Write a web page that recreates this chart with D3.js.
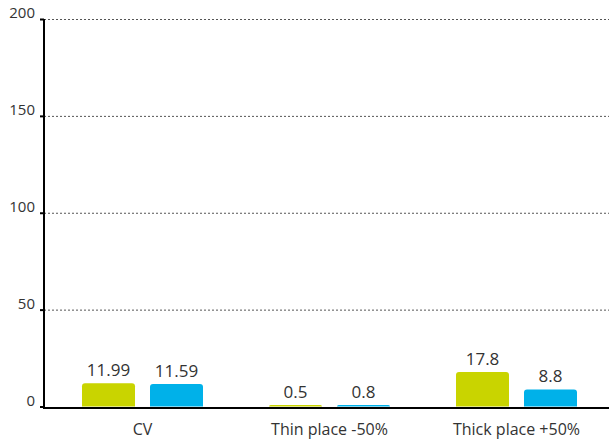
<!DOCTYPE html>
<html><head><meta charset="utf-8">
<script src="https://cdn.jsdelivr.net/npm/d3@7"></script>
<style>body{margin:0;background:#fff;} svg{display:block;}</style>
</head><body><svg id="c" width="609" height="441"></svg>
<script>
const categories = ["CV", "Thin place -50%", "Thick place +50%"];
const series1 = [11.99, 0.5, 17.8];
const series2 = [11.59, 0.8, 8.8];
const yTicks = [0, 50, 100, 150, 200];
const colors = ["#c9d400", "#00b1e9"];

const svg = d3.select("#c");
const font = "'Open Sans',sans-serif";
const y = d3.scaleLinear().domain([0, 200]).range([406.5, 19]);
const x = d3.scaleBand().domain(categories).range([49, 610]).padding(0);
const sub = d3.scaleBand().domain([0, 1]).range([-60.5, 60.5]).paddingInner(15 / 68).paddingOuter(0);

// grid
svg.append("g").selectAll("line").data(yTicks.filter(d => d > 0)).join("line")
  .attr("x1", 44).attr("x2", 609).attr("y1", d => y(d) + 0.5).attr("y2", d => y(d) + 0.5)
  .attr("stroke", "#555").attr("stroke-width", 1).attr("stroke-dasharray", "2,2");

// y axis
const ya = d3.axisLeft(y).tickValues(yTicks).tickSize(4).tickPadding(5);
const gy = svg.append("g").attr("transform", "translate(44,0)").call(ya);
gy.select(".domain").remove();
gy.selectAll(".tick line").attr("stroke", "#000").attr("stroke-width", 2);
gy.selectAll(".tick text").attr("font-family", font).attr("font-size", 15).attr("fill", "#333")
  .attr("dy", "-0.1em");
svg.append("line").attr("x1", 44).attr("x2", 44).attr("y1", 19).attr("y2", 409)
  .attr("stroke", "#000").attr("stroke-width", 2);

const data = categories.map((c, i) => ({c, v: [series1[i], series2[i]]}));
const groups = svg.append("g").selectAll("g").data(data).join("g")
  .attr("transform", d => `translate(${x(d.c) + x.bandwidth() / 2},0)`);

function roundTop(x0, y0, w, h, r) {
  r = Math.min(r, h, w / 2);
  return `M${x0},${y0 + h}V${y0 + r}Q${x0},${y0} ${x0 + r},${y0}H${x0 + w - r}Q${x0 + w},${y0} ${x0 + w},${y0 + r}V${y0 + h}Z`;
}
const barH = v => Math.max(1.6, y(0) - y(v));
groups.selectAll("path").data(d => d.v.map((v, k) => ({v, k}))).join("path")
  .attr("d", d => roundTop(sub(d.k), y(0) - barH(d.v), sub.bandwidth(), barH(d.v), 3))
  .attr("fill", d => colors[d.k]);
groups.selectAll("text.val").data(d => d.v.map((v, k) => ({v, k}))).join("text")
  .attr("class", "val")
  .attr("x", d => sub(d.k) + sub.bandwidth() / 2).attr("y", d => y(0) - barH(d.v) - 7)
  .attr("text-anchor", "middle").attr("font-family", font).attr("font-size", 17).attr("fill", "#333")
  .text(d => d.v);

// x axis
svg.append("line").attr("x1", 43).attr("x2", 609).attr("y1", 408).attr("y2", 408)
  .attr("stroke", "#000").attr("stroke-width", 2);
svg.append("g").selectAll("text").data(categories).join("text")
  .attr("x", d => x(d) + x.bandwidth() / 2).attr("y", 435)
  .attr("text-anchor", "middle").attr("font-family", font).attr("font-size", 16).attr("fill", "#333")
  .text(d => d);
</script></body></html>
